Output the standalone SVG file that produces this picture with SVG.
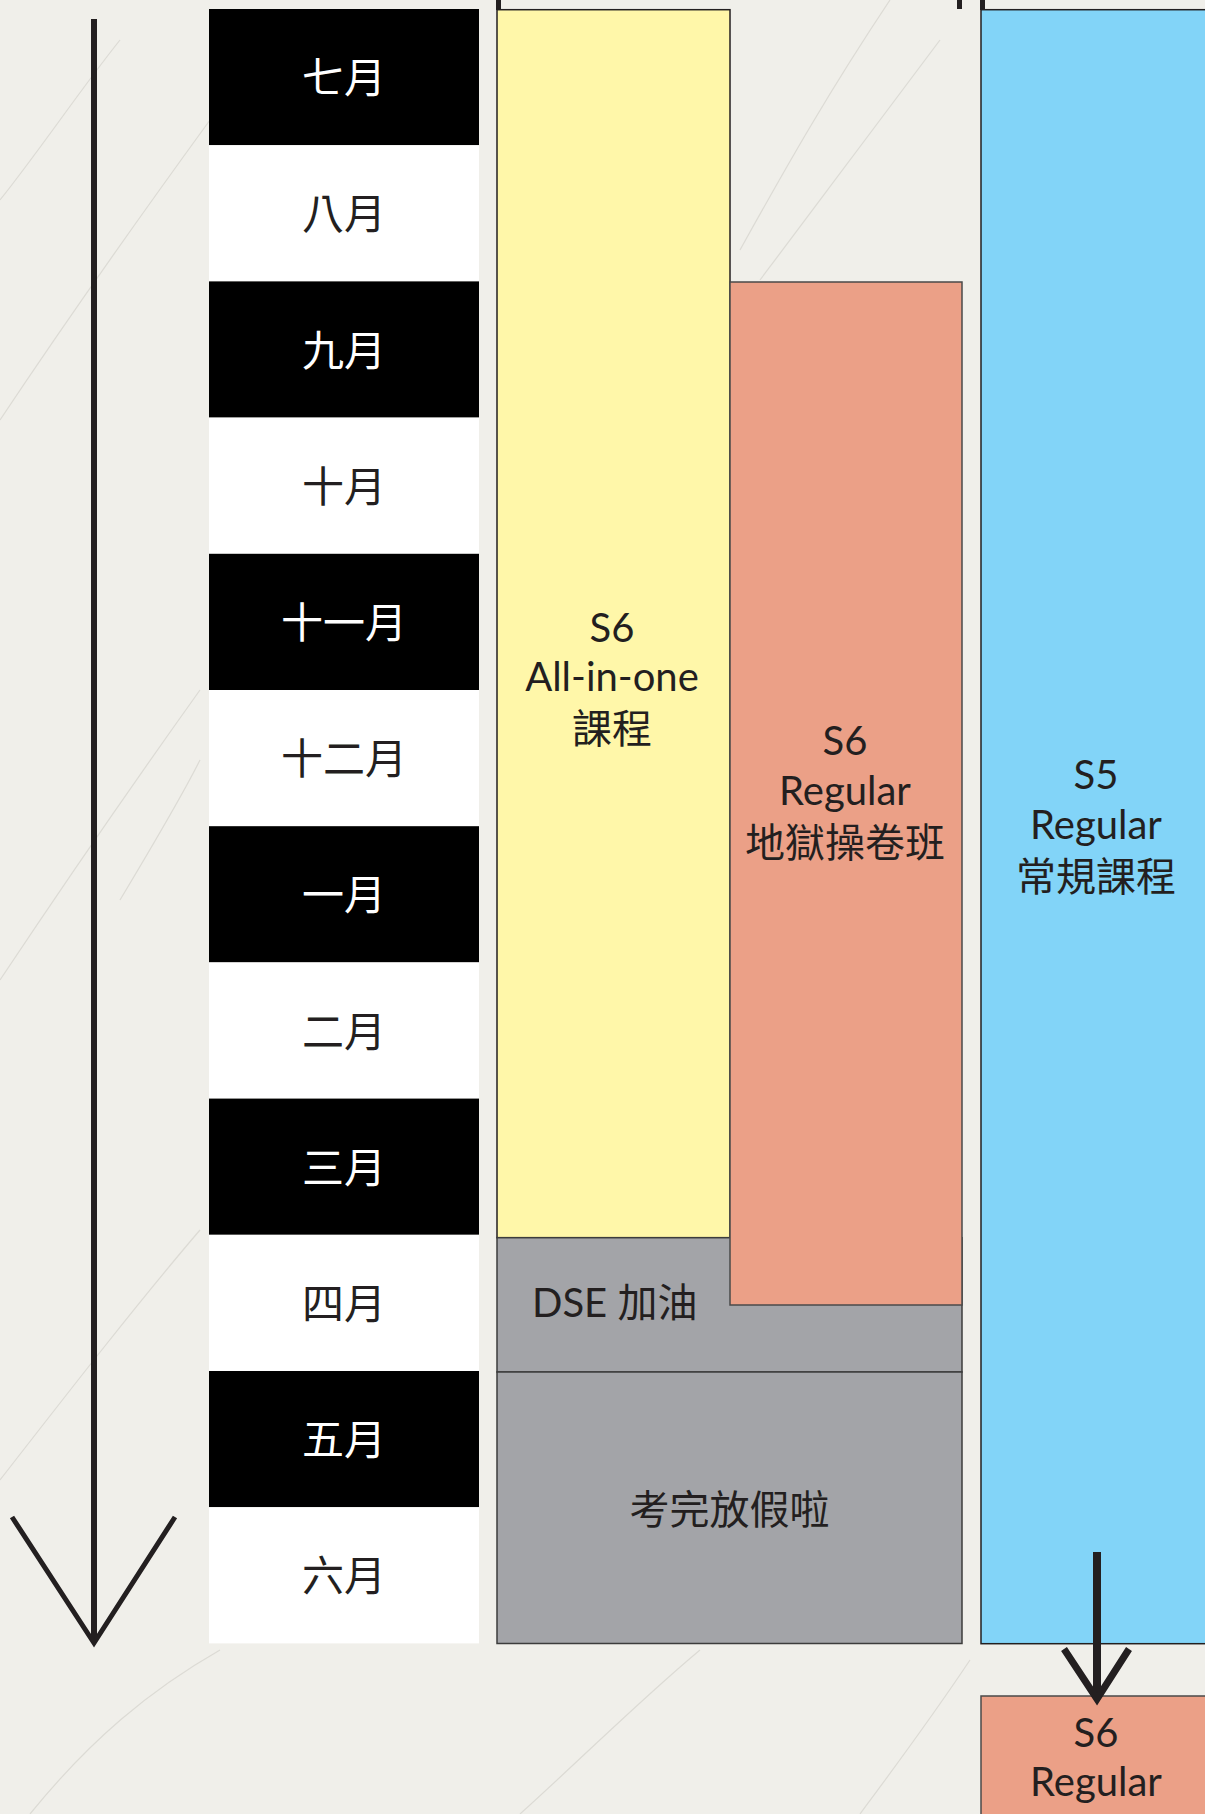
<svg xmlns="http://www.w3.org/2000/svg" width="1205" height="1814" viewBox="0 0 1205 1814">
<style>
.mb{fill:#000}
.mw{fill:#fff}
.ml{font-family:"Noto Sans CJK TC","Noto Sans CJK SC",sans-serif;font-weight:400;font-size:42px;text-anchor:middle}
.lw{fill:#fff}
.lk{fill:#231F20}
.t{font-family:"Lato","Noto Sans CJK TC",sans-serif;font-size:40px;fill:#231F20;text-anchor:middle}
.tc{font-family:"Noto Sans CJK TC",sans-serif;font-size:40px;fill:#231F20;text-anchor:middle}
.box{stroke:#231F20;stroke-width:1.5}
.yel{fill:#FFF7A9}
.sal{fill:#EBA087;stroke:#4a4a4a}
.gry{fill:#A3A4A8;stroke:#3c3c3c}
.blu{fill:#82D4F8}
.vein{fill:none;stroke:#cfcdc6;stroke-width:1.2;opacity:0.6}
.ar{fill:none;stroke:#231F20;stroke-linecap:butt;stroke-linejoin:miter}
</style>
<rect x="0" y="0" width="1205" height="1814" fill="#F0EFEA"/>
<g id="background-veins">
<path class="vein" d="M0 420 C60 330 130 230 210 120"/>
<path class="vein" d="M0 980 C80 860 150 760 200 690"/>
<path class="vein" d="M0 1480 C70 1390 140 1300 200 1230"/>
<path class="vein" d="M740 250 C790 160 830 90 890 0"/>
<path class="vein" d="M760 280 C820 200 880 120 940 40"/>
<path class="vein" d="M30 1814 C90 1740 150 1690 220 1650"/>
<path class="vein" d="M520 1814 C580 1760 640 1700 700 1650"/>
<path class="vein" d="M860 1814 C900 1760 930 1720 970 1660"/>
<path class="vein" d="M0 200 C40 150 80 90 120 40"/>
<path class="vein" d="M120 900 C150 850 180 800 200 760"/>
</g>
<g id="months">
<g id="m7"><rect class="mb" x="209" y="9" width="270" height="136.2"/><text class="ml lw" x="344" y="93">七月</text></g>
<g id="m8"><rect class="mw" x="209" y="145.2" width="270" height="136.2"/><text class="ml lk" x="344" y="229">八月</text></g>
<g id="m9"><rect class="mb" x="209" y="281.4" width="270" height="136.2"/><text class="ml lw" x="344" y="365.5">九月</text></g>
<g id="m10"><rect class="mw" x="209" y="417.6" width="270" height="136.2"/><text class="ml lk" x="344" y="501.5">十月</text></g>
<g id="m11"><rect class="mb" x="209" y="553.8" width="270" height="136.2"/><text class="ml lw" x="344" y="638">十一月</text></g>
<g id="m12"><rect class="mw" x="209" y="690" width="270" height="136.2"/><text class="ml lk" x="344" y="774">十二月</text></g>
<g id="m1"><rect class="mb" x="209" y="826.2" width="270" height="136.2"/><text class="ml lw" x="344" y="910">一月</text></g>
<g id="m2"><rect class="mw" x="209" y="962.4" width="270" height="136.2"/><text class="ml lk" x="344" y="1046.5">二月</text></g>
<g id="m3"><rect class="mb" x="209" y="1098.6" width="270" height="136.2"/><text class="ml lw" x="344" y="1182.5">三月</text></g>
<g id="m4"><rect class="mw" x="209" y="1234.8" width="270" height="136.2"/><text class="ml lk" x="344" y="1319">四月</text></g>
<g id="m5"><rect class="mb" x="209" y="1371" width="270" height="136.2"/><text class="ml lw" x="344" y="1455">五月</text></g>
<g id="m6"><rect class="mw" x="209" y="1507.2" width="270" height="136.2"/><text class="ml lk" x="344" y="1591">六月</text></g>
</g>
<g id="top-edges" fill="#231F20">
<rect x="496" y="0" width="5" height="10"/>
<rect x="957" y="0" width="5" height="9"/>
<rect x="980" y="0" width="5" height="10"/>
</g>
<g id="s6-allinone"><rect class="box yel" x="497" y="9.7" width="233" height="1228"/>
<text class="t" x="612" y="642">S6</text>
<text class="t" x="612" y="691">All-in-one</text>
<text class="tc" x="612" y="743">課程</text></g>
<g id="dse"><rect class="box gry" x="497" y="1237.7" width="465" height="134.3"/>
<text class="t" x="532" y="1317" style="text-anchor:start">DSE 加油</text></g>
<g id="s6-regular"><rect class="box sal" x="730" y="282" width="232" height="1023"/>
<text class="t" x="845" y="755">S6</text>
<text class="t" x="845" y="805">Regular</text>
<text class="tc" x="845" y="857">地獄操卷班</text></g>
<g id="holiday"><rect class="box gry" x="497" y="1372" width="465" height="271.5"/>
<text class="tc" x="729.5" y="1524">考完放假啦</text></g>
<g id="s5-regular"><rect class="box blu" x="981" y="9.7" width="240" height="1634"/>
<text class="t" x="1096" y="789">S5</text>
<text class="t" x="1096" y="839">Regular</text>
<text class="tc" x="1096" y="891">常規課程</text></g>
<g id="s6-regular-next"><rect class="box sal" x="981" y="1696" width="240" height="130"/>
<text class="t" x="1096" y="1747">S6</text>
<text class="t" x="1096" y="1796">Regular</text></g>
<g id="connectors">
<line class="ar" x1="94" y1="19" x2="94" y2="1641" stroke-width="6"/>
<polyline class="ar" points="12,1517 94,1643 175,1517" stroke-width="5"/>
<line class="ar" x1="1097" y1="1552" x2="1097" y2="1697" stroke-width="8"/>
<polyline class="ar" points="1064,1649 1097,1699 1129,1649" stroke-width="7"/>
</g>
</svg>
